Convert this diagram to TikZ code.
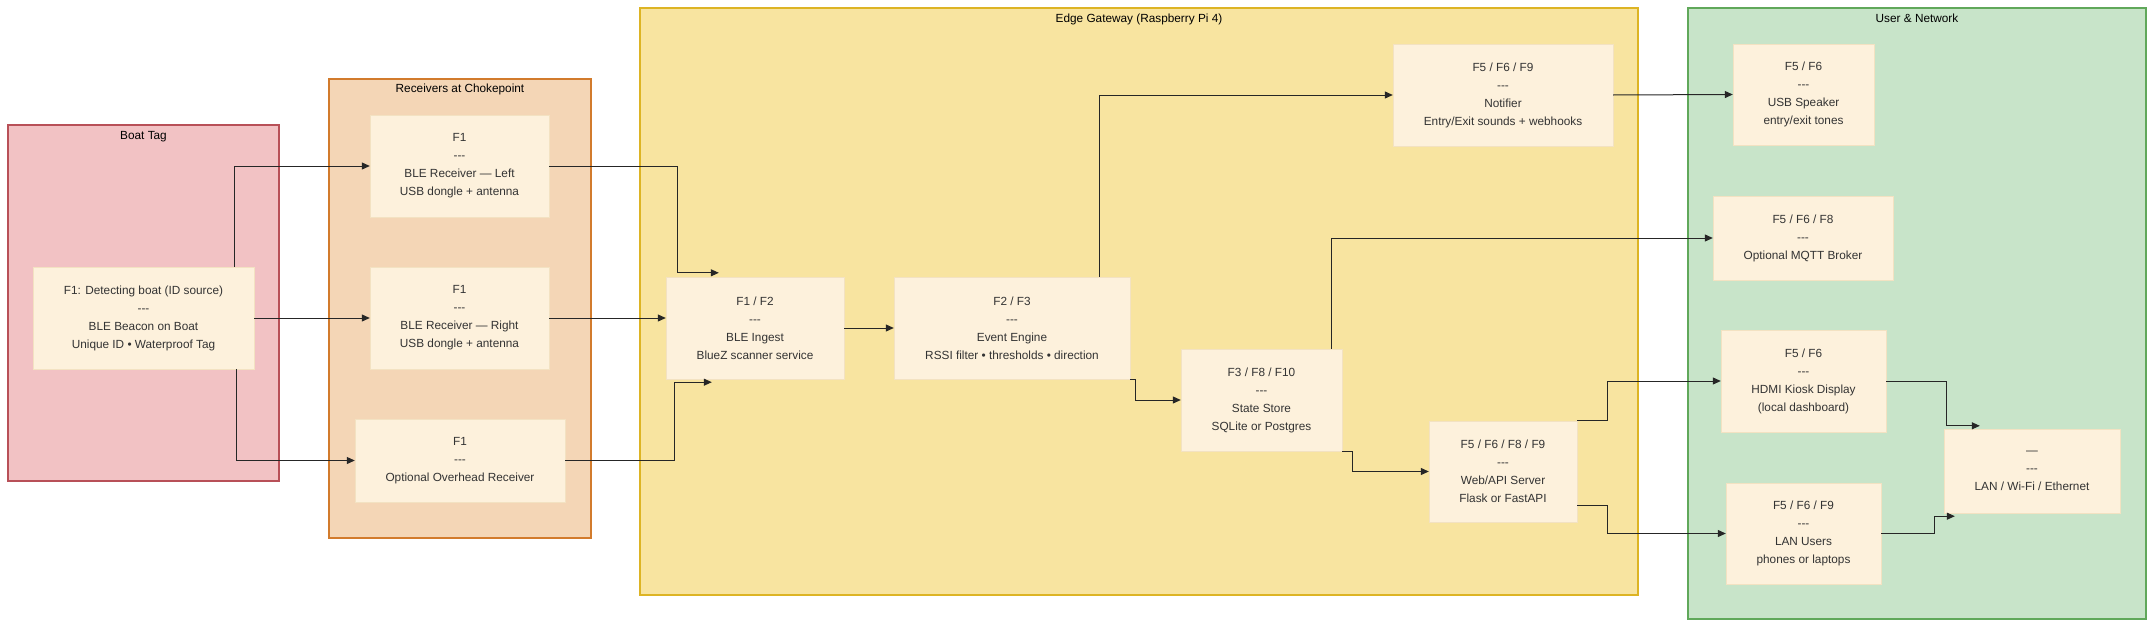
\documentclass[tikz,border=0pt]{standalone}
\usepackage{fontspec}
\setmainfont{Liberation Sans}
\usetikzlibrary{arrows.meta}
\definecolor{boxfill}{HTML}{FDF1DC}
\definecolor{boxline}{HTML}{F3E2C2}
\definecolor{tagfill}{HTML}{F2C2C4}
\definecolor{tagline}{HTML}{B85058}
\definecolor{rxfill}{HTML}{F4D6B6}
\definecolor{rxline}{HTML}{D27B2C}
\definecolor{gwfill}{HTML}{F8E4A0}
\definecolor{gwline}{HTML}{DDB424}
\definecolor{netfill}{HTML}{C8E4C9}
\definecolor{netline}{HTML}{60A85A}
\definecolor{txt}{HTML}{333333}
\newcommand{\tripdash}{\mbox{-}\mbox{-}\mbox{-}}
\begin{document}
\begin{tikzpicture}[x=1pt,y=-1pt,>={Triangle[length=8pt,width=7pt]},
	blk/.style 2 args={draw=boxline,fill=boxfill,text=txt,align=center,inner sep=0pt,minimum width=#1,minimum height=#2,font=\fontsize{11.8}{18}\selectfont},
	grp/.style={line width=2pt},
	ttl/.style={anchor=base,font=\fontsize{11.8}{14}\selectfont},
	wire/.style={->,line width=1pt,draw=black!85}]
	\useasboundingbox (0,0) rectangle (2154,626);
	\draw [grp,draw=tagline,fill=tagfill](8,125) rectangle (279,481);
	\node [ttl] (tagttl) at (143.5,139.3) {Boat Tag};
	\draw [grp,draw=rxline,fill=rxfill](329,79) rectangle (591,538);
	\node [ttl] (rxttl) at (460,92.3) {Receivers at Chokepoint};
	\draw [grp,draw=gwline,fill=gwfill](640,8) rectangle (1638,595);
	\node [ttl] (gwttl) at (1139,22.3) {Edge Gateway (Raspberry Pi 4)};
	\draw [grp,draw=netline,fill=netfill](1688,8) rectangle (2146,619);
	\node [ttl] (netttl) at (1917,22.3) {User \& Network};

	\node [blk={221pt}{102pt}] (beacon) at (143.5,318) {F1: Detecting boat (ID source)\\\tripdash\\BLE Beacon on Boat\\Unique ID • Waterproof Tag};
	\node [blk={179pt}{102pt}] (rxleft) at (459.5,166) {F1\\\tripdash\\BLE Receiver — Left\\USB dongle + antenna};
	\node [blk={179pt}{102pt}] (rxright) at (459.5,318) {F1\\\tripdash\\BLE Receiver — Right\\USB dongle + antenna};
	\node [blk={210pt}{83pt}] (rxover) at (460,460.5) {F1\\\tripdash\\Optional Overhead Receiver};
	\node [blk={178pt}{102pt}] (ingest) at (755,328) {F1 / F2\\\tripdash\\BLE Ingest\\BlueZ scanner service};
	\node [blk={236pt}{102pt}] (engine) at (1012,328) {F2 / F3\\\tripdash\\Event Engine\\RSSI filter • thresholds • direction};
	\node [blk={220pt}{102pt}] (notifier) at (1503,95) {F5 / F6 / F9\\\tripdash\\Notifier\\Entry/Exit sounds + webhooks};
	\node [blk={161pt}{102pt}] (store) at (1261.5,400) {F3 / F8 / F10\\\tripdash\\State Store\\SQLite or Postgres};
	\node [blk={148pt}{101pt}] (webapi) at (1503,471.5) {F5 / F6 / F8 / F9\\\tripdash\\Web/API Server\\Flask or FastAPI};
	\node [blk={141pt}{101pt}] (speaker) at (1803.5,94.5) {F5 / F6\\\tripdash\\USB Speaker\\entry/exit tones};
	\node [blk={180pt}{84pt}] (mqtt) at (1803,238) {F5 / F6 / F8\\\tripdash\\Optional MQTT Broker};
	\node [blk={165pt}{102pt}] (hdmi) at (1803.5,381) {F5 / F6\\\tripdash\\HDMI Kiosk Display\\(local dashboard)};
	\node [blk={155pt}{101pt}] (lanusers) at (1803.5,533.5) {F5 / F6 / F9\\\tripdash\\LAN Users\\phones or laptops};
	\node [blk={176pt}{84pt}] (lan) at (2032,471) {—\\\tripdash\\LAN / Wi-Fi / Ethernet};

	\coordinate (inTop) at ([xshift=53pt,yshift=4pt]ingest.north west);
	\coordinate (inBot) at ([xshift=46pt,yshift=-3pt]ingest.south west);
	\coordinate (lanTop) at ([xshift=36pt,yshift=3pt]lan.north west);
	\coordinate (lanBot) at ([xshift=11pt,yshift=-3pt]lan.south west);

	\draw [wire]([xshift=90.5pt]beacon.north) |- (rxleft.west);
	\draw [wire](beacon.east) -- (rxright.west);
	\draw [wire]([xshift=92.5pt]beacon.south) |- (rxover.west);
	\draw [wire](rxleft.east) -| ([xshift=-41pt]inTop) -- (inTop);
	\draw [wire](rxright.east) -- (rxright.east -| ingest.west);
	\draw [wire](rxover.east) -| ([xshift=-37pt]inBot) -- (inBot);
	\draw [wire](ingest.east) -- (engine.west);
	\draw [wire]([xshift=87pt]engine.north) |- (notifier.west);
	\draw [wire](engine.south east) -- ++(5,0) |- (store.west);
	\draw [wire]([xshift=-11pt]store.north east) |- (mqtt.west);
	\draw [wire](store.south east) -- ++(10,0) |- (webapi.west);
	\draw [wire](notifier.east) -- (speaker.west);
	\draw [wire](webapi.north east) -- ++(30,0) |- (hdmi.west);
	\draw [wire]([yshift=17pt]webapi.south east) -- ++(30,0) |- (lanusers.west);
	\draw [wire](hdmi.east) -| ([xshift=-33pt]lanTop) -- (lanTop);
	\draw [wire](lanusers.east) -| ([xshift=-20pt]lanBot) -- (lanBot);
\end{tikzpicture}
\end{document}
